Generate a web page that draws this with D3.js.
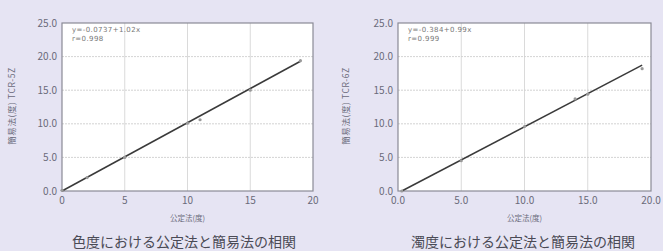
<!DOCTYPE html>
<html>
<head>
<meta charset="utf-8">
<script src="https://cdn.jsdelivr.net/npm/d3@7"></script>
<style>
  body { margin: 0; background: #e6e4f3; }
  svg { display: block; font-family: "Noto Sans CJK JP", "DejaVu Sans", sans-serif; }
</style>
</head>
<body>
<div id="chart"></div>
<script>
// data
var colorX = [0, 2, 5, 10, 11, 15, 19];
var colorY = [0.1, 2.0, 5.0, 10.1, 10.6, 15.0, 19.4];
var turbX = [0.3, 5.0, 10.0, 14.0, 15.0, 19.3];
var turbY = [0.0, 4.5, 9.6, 13.7, 14.4, 18.2];

var yTicks = [0, 5, 10, 15, 20, 25];
var xTicks = [0, 5, 10, 15, 20];

var svgWidth = 663;
var svgHeight = 251;

var svg = d3.select("#chart")
  .append("svg")
  .attr("width", svgWidth)
  .attr("height", svgHeight);

var panels = [
  { left: 62, right: 313, xs: colorX, ys: colorY, fit: [-0.0737, 1.02], x0: 0, x1: 19,
    eq: "y=-0.0737+1.02x", r: "r=0.998", yTitle: "簡易法(度) TCR-5Z",
    xFmt: d3.format("d"), title: "色度における公定法と簡易法の相関", titleX: 184, yTitleX: 15 },
  { left: 398, right: 651, xs: turbX, ys: turbY, fit: [-0.384, 0.99], x0: 0.3, x1: 19.3,
    eq: "y=-0.384+0.99x", r: "r=0.999", yTitle: "簡易法(度) TCR-6Z",
    xFmt: d3.format(".1f"), title: "濁度における公定法と簡易法の相関", titleX: 523, yTitleX: 349 }
];

var plotTop = 23, plotBottom = 191;

panels.forEach(function(p) {
  var x = d3.scaleLinear().domain([0, 20]).range([p.left, p.right]);
  var y = d3.scaleLinear().domain([0, 25]).range([plotBottom, plotTop]);
  var g = svg.append("g");

  g.append("rect")
    .attr("x", p.left).attr("y", plotTop)
    .attr("width", p.right - p.left).attr("height", plotBottom - plotTop)
    .attr("fill", "#fff");

  // grid
  g.selectAll(".hgrid").data([5, 10, 15, 20]).enter().append("line")
    .attr("x1", p.left).attr("x2", p.right)
    .attr("y1", d => y(d)).attr("y2", d => y(d))
    .attr("stroke", "#c8c8c8").attr("stroke-width", 0.8)
    .attr("stroke-dasharray", "2,1");
  g.selectAll(".vgrid").data([5, 10, 15]).enter().append("line")
    .attr("y1", plotTop).attr("y2", plotBottom)
    .attr("x1", d => x(d)).attr("x2", d => x(d))
    .attr("stroke", "#d0d0d0").attr("stroke-width", 0.8);

  g.append("rect")
    .attr("x", p.left).attr("y", plotTop)
    .attr("width", p.right - p.left).attr("height", plotBottom - plotTop)
    .attr("fill", "none").attr("stroke", "#8a8a96").attr("stroke-width", 1.2);

  // regression line
  g.append("line")
    .attr("x1", x(p.x0)).attr("y1", y(Math.max(0, p.fit[0] + p.fit[1] * p.x0)))
    .attr("x2", x(p.x1)).attr("y2", y(p.fit[0] + p.fit[1] * p.x1))
    .attr("stroke", "#3a3a3a").attr("stroke-width", 1.5);

  g.selectAll(".pt").data(p.xs).enter().append("circle")
    .attr("cx", d => x(d))
    .attr("cy", (d, i) => y(p.ys[i]))
    .attr("r", 1.6)
    .attr("fill", "#999");

  // y tick labels
  g.selectAll(".yt").data(yTicks).enter().append("text")
    .attr("x", p.left - 5).attr("y", d => y(d) + 3.5)
    .attr("text-anchor", "end")
    .attr("font-size", 10).attr("fill", "#6a6a7a")
    .text(d => d3.format(".1f")(d));

  // x tick labels
  g.selectAll(".xt").data(xTicks).enter().append("text")
    .attr("x", d => x(d)).attr("y", 204)
    .attr("text-anchor", "middle")
    .attr("font-size", 10).attr("fill", "#6a6a7a")
    .text(d => p.xFmt(d));

  g.append("text")
    .attr("x", (p.left + p.right) / 2).attr("y", 221)
    .attr("text-anchor", "middle")
    .attr("font-size", 7.5).attr("fill", "#6a6a7a")
    .text("公定法(度)");

  g.append("text")
    .attr("transform", `translate(${p.yTitleX}, 106) rotate(-90)`)
    .attr("text-anchor", "middle")
    .attr("font-size", 8.5).attr("fill", "#6a6a7a")
    .attr("letter-spacing", 0.6)
    .text(p.yTitle);

  g.append("text")
    .attr("x", p.left + 10).attr("y", plotTop + 9)
    .attr("font-family", "DejaVu Sans")
    .attr("font-size", 7).attr("fill", "#777")
    .attr("letter-spacing", 0.4)
    .text(p.eq);
  g.append("text")
    .attr("x", p.left + 10).attr("y", plotTop + 18)
    .attr("font-family", "DejaVu Sans")
    .attr("font-size", 7).attr("fill", "#777")
    .attr("letter-spacing", 0.4)
    .text(p.r);

  g.append("text")
    .attr("x", p.titleX).attr("y", 247)
    .attr("text-anchor", "middle")
    .attr("font-size", 14).attr("fill", "#4a4a55")
    .text(p.title);
});
</script>
</body>
</html>
